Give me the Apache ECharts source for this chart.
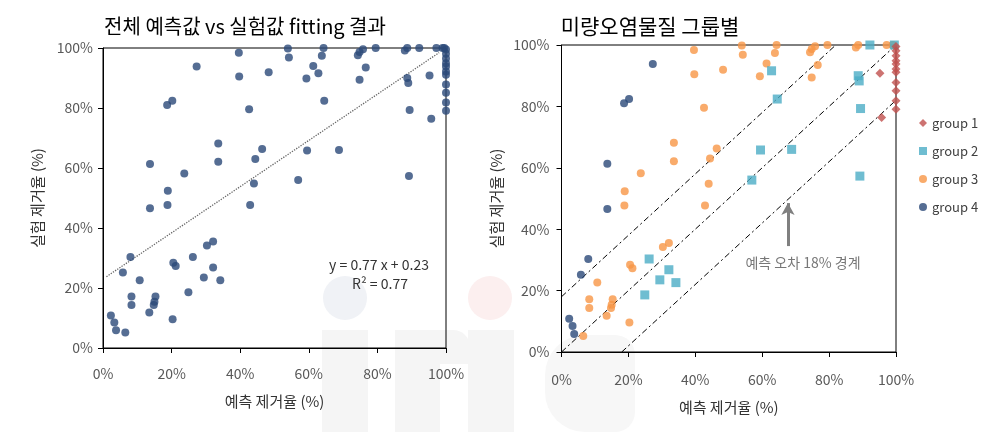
<!DOCTYPE html>
<html>
<head>
<meta charset="utf-8">
<script src="https://cdn.jsdelivr.net/npm/echarts@6/dist/echarts.min.js"></script>
<style>
html,body{margin:0;padding:0;background:#fff;}
#c{width:992px;height:432px;}
</style>
</head>
<body>
<div id="c"></div>
<script>
// ---- data (x = 예측 제거율 %, y = 실험 제거율 %) ----
const group1 = [[95.2,90.8],[95.7,76.4],[100,99.5],[100,98.1],[100,96.5],[100,94.9],[100,93.8],[100,92.2],[100,91.1],[100,87.8],[100,85.1],[100,81.8],[100,79.1]];
const group2 = [[92.2,100],[99.5,100],[62.8,91.6],[64.5,82.4],[88.7,90],[89,88.3],[89.4,79.3],[59.5,65.8],[68.8,66],[56.9,56],[89.2,57.3],[26.2,30.3],[32.1,26.8],[29.4,23.5],[34.2,22.6],[24.9,18.6]];
const group3 = [[39.6,98.4],[39.7,90.5],[48.3,91.9],[53.9,99.8],[54.2,96.8],[42.6,79.6],[33.6,68.2],[46.4,66.3],[44.4,63],[33.6,62.1],[23.7,58.2],[18.9,52.4],[44,54.8],[18.8,47.7],[42.9,47.7],[10.7,22.6],[30.3,34.2],[32.1,35.5],[20.5,28.4],[21.2,27.3],[8.3,17.2],[8.3,14.3],[15.3,17.2],[15,15.4],[14.8,14.3],[13.5,11.8],[20.3,9.6],[6.5,5.2],[64.3,100],[63.8,97.4],[61.3,94],[59.3,89.8],[74.8,98.7],[75.8,99.6],[74.3,97.6],[79.5,100],[76.6,93.5],[74.8,89.4],[88,99.2],[88.7,100],[97.2,100],[99,100]];
const group4 = [[27.3,93.8],[18.7,81],[20.2,82.4],[13.7,61.3],[13.7,46.6],[8,30.3],[5.8,25.2],[2.3,10.8],[3.3,8.5],[3.8,5.9]];
const groupNames = ['group 1','group 2','group 3','group 4'];
const axisTicks = [0,20,40,60,80,100];
const fitSlope = 0.77, fitIntercept = 0.23, fitR2 = 0.77;
const errorBand = 18;
const titles = ['전체 예측값 vs 실험값 fitting 결과','미량오염물질 그룹별'];
const xName = '예측 제거율 (%)', yName = '실험 제거율 (%)';

// ---- styling ----
const FONT = "'Noto Sans CJK KR', 'Noto Sans', sans-serif";
const colors = {g1:'#C0504D', g2:'#4BACC6', g3:'#F79646', g4:'#2A4878'};
const allPoints = group1.concat(group2, group3, group4);

const fitLine = [[1, fitSlope*1+fitIntercept*100],[98, fitSlope*98+fitIntercept*100]];
const upperBand = [[0, errorBand],[100-errorBand, 100]];
const diagLine = [[0,0],[100,100]];
const lowerBand = [[errorBand,0],[100, 100-errorBand]];

function xAxis(gi){
  return {gridIndex:gi, type:'value', min:0, max:100, interval:20,
    name:xName, nameLocation:'middle', nameGap: gi===0?46:48,
    nameTextStyle:{fontFamily:FONT,fontSize:15,color:'#333'},
    axisLine:{show:true,lineStyle:{color:'#000',width:1}},
    axisTick:{show:true,inside:false,length:5,lineStyle:{color:'#000'}},
    axisLabel:{formatter:'{value}%',fontFamily:FONT,fontSize:14,color:'#595959',margin: gi===0?19:21},
    splitLine:{show:false}};
}
function yAxis(gi){
  return {gridIndex:gi, type:'value', min:0, max:100, interval:20,
    name:yName, nameLocation:'middle', nameGap:58,
    nameTextStyle:{fontFamily:FONT,fontSize:15,color:'#333'},
    axisLine:{show:true,lineStyle:{color:'#000',width:1}},
    axisTick:{show:true,inside:false,length:5,lineStyle:{color:'#000'}},
    axisLabel:{formatter:'{value}%',fontFamily:FONT,fontSize:14,color:'#595959',margin: gi===0?10:12},
    splitLine:{show:false}};
}

const dashStyle = {color:'#000', width:1, type:[6,3,2,3]};
const wm = '#F5F5F5';

const option = {
  animation:false,
  backgroundColor:'#fff',
  textStyle:{fontFamily:FONT},
  title:[
    {text:titles[0], left:240, top:11, textAlign:'center', textStyle:{fontFamily:FONT,fontSize:20,fontWeight:'normal',color:'#000'}},
    {text:titles[1], left:645, top:11, textAlign:'center', textStyle:{fontFamily:FONT,fontSize:21,fontWeight:'normal',color:'#000'}}
  ],
  grid:[
    {left:103, top:48, width:343, height:300, show:true, borderColor:'#000', borderWidth:1, backgroundColor:'transparent'},
    {left:561.5, top:45, width:334.5, height:307, show:true, borderColor:'#000', borderWidth:1, backgroundColor:'transparent'}
  ],
  xAxis:[xAxis(0), xAxis(1)],
  yAxis:[yAxis(0), yAxis(1)],
  legend:{
    orient:'vertical', left:914, top:111, itemGap:14, itemWidth:8, itemHeight:8,
    textStyle:{fontFamily:FONT,fontSize:13,color:'#404040',lineHeight:14},
    data:[
      {name:groupNames[0], icon:'diamond'},
      {name:groupNames[1], icon:'rect'},
      {name:groupNames[2], icon:'circle'},
      {name:groupNames[3], icon:'circle'}
    ]
  },
  graphic:[
    // faint watermark
    {type:'circle', z:-10, silent:true, shape:{cx:345,cy:298,r:22}, style:{fill:'#F0F2F6'}},
    {type:'rect', z:-10, silent:true, shape:{x:322,y:330,width:46,height:102}, style:{fill:wm}},
    {type:'rect', z:-10, silent:true, shape:{x:395,y:330,width:45,height:102}, style:{fill:wm}},
    {type:'rect', z:-10, silent:true, shape:{x:420,y:330,width:50,height:34,r:[17,17,0,0]}, style:{fill:wm}},
    {type:'circle', z:-10, silent:true, shape:{cx:490,cy:298,r:22}, style:{fill:'#FCEFEF'}},
    {type:'rect', z:-10, silent:true, shape:{x:468,y:330,width:46,height:102}, style:{fill:wm}},
    {type:'rect', z:-10, silent:true, shape:{x:545,y:335,width:90,height:97,r:[40,20,20,40]}, style:{fill:'#F7F7F7'}},
    {type:'text', x:379, y:265, style:{text:'y = 0.77 x + 0.23', font:'14px '+FONT, fill:'#333', align:'center', verticalAlign:'middle'}},
    {type:'text', x:380, y:284, style:{text:'R² = 0.77', font:'14px '+FONT, fill:'#333', align:'center', verticalAlign:'middle'}},
    {type:'text', x:803, y:263, style:{text:'예측 오차 18% 경계', font:'14px '+FONT, fill:'#777', align:'center', verticalAlign:'middle'}}
  ],
  series:[
    // left chart
    {type:'line', xAxisIndex:0, yAxisIndex:0, data:fitLine, symbol:'none', silent:true,
      lineStyle:{color:'#666', width:1.3, type:'dotted'}, z:1},
    {type:'scatter', xAxisIndex:0, yAxisIndex:0, data:allPoints, symbol:'circle', symbolSize:8,
      itemStyle:{color:colors.g4}, z:3},
    // right chart guide lines
    {type:'line', xAxisIndex:1, yAxisIndex:1, data:upperBand, symbol:'none', silent:true, lineStyle:dashStyle, z:1},
    {type:'line', xAxisIndex:1, yAxisIndex:1, data:diagLine, symbol:'none', silent:true, lineStyle:dashStyle, z:1},
    {type:'line', xAxisIndex:1, yAxisIndex:1, data:lowerBand, symbol:'none', silent:true, lineStyle:dashStyle, z:1,
      markLine:{silent:true, symbol:['none','arrow'], symbolSize:[10,12], label:{show:false},
        lineStyle:{color:'#808080', width:3, type:'solid'},
        data:[[{coord:[67.7,34.5]},{coord:[67.7,48.5]}]]}},
    {name:groupNames[0], type:'scatter', xAxisIndex:1, yAxisIndex:1, data:group1, symbol:'diamond', symbolSize:9, itemStyle:{color:colors.g1}, z:6},
    {name:groupNames[1], type:'scatter', xAxisIndex:1, yAxisIndex:1, data:group2, symbol:'rect', symbolSize:9, itemStyle:{color:colors.g2}, z:5},
    {name:groupNames[2], type:'scatter', xAxisIndex:1, yAxisIndex:1, data:group3, symbol:'circle', symbolSize:8, itemStyle:{color:colors.g3}, z:4},
    {name:groupNames[3], type:'scatter', xAxisIndex:1, yAxisIndex:1, data:group4, symbol:'circle', symbolSize:8, itemStyle:{color:colors.g4}, z:3}
  ]
};
const chart = echarts.init(document.getElementById('c'), null, {renderer:'canvas'});
chart.setOption(option);
</script>
</body>
</html>
